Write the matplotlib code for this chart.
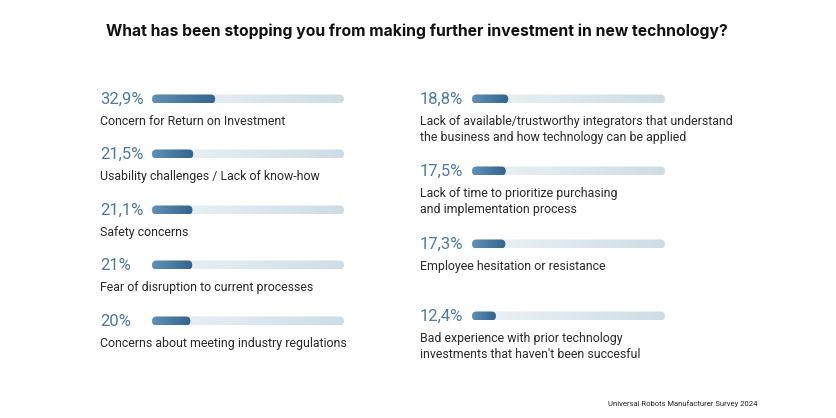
import matplotlib.pyplot as plt
import numpy as np
from matplotlib.patches import FancyBboxPatch
from matplotlib.colors import LinearSegmentedColormap

plt.rcParams['font.family'] = ['Roboto', 'DejaVu Sans']

# data
left_values = [32.9, 21.5, 21.1, 21, 20]
left_pct = ["32,9%", "21,5%", "21,1%", "21%", "20%"]
left_labels = ["Concern for Return on Investment",
               "Usability challenges / Lack of know-how",
               "Safety concerns",
               "Fear of disruption to current processes",
               "Concerns about meeting industry regulations"]

right_values = [18.8, 17.5, 17.3, 12.4]
right_pct = ["18,8%", "17,5%", "17,3%", "12,4%"]
right_labels = ["Lack of available/trustworthy integrators that understand\nthe business and how technology can be applied",
                "Lack of time to prioritize purchasing\nand implementation process",
                "Employee hesitation or resistance",
                "Bad experience with prior technology\ninvestments that haven't been succesful"]

title = "What has been stopping you from making further investment in new technology?"
source = "Universal Robots Manufacturer Survey 2024"

track_cmap = LinearSegmentedColormap.from_list("track", ["#eef3f6", "#cddde6"])
fill_cmap = LinearSegmentedColormap.from_list("fill", ["#6090b5", "#33648f"])

fig = plt.figure(figsize=(8.36, 4.18), dpi=100)
ax = fig.add_axes([0, 0, 1, 1])
ax.set_xlim(0, 836)
ax.set_ylim(418, 0)
ax.axis('off')

grad = np.linspace(0, 1, 256).reshape(1, -1)


def rounded_bar(x0, yc, w, h, cmap):
    r = h / 2
    # thin core box padded by r -> pill shape
    patch = FancyBboxPatch((x0 + r, yc - 0.01), max(w - h, 0.01), 0.02,
                           boxstyle="round,pad=%f,rounding_size=%f" % (r - 0.01, r),
                           linewidth=0, facecolor='none')
    ax.add_patch(patch)
    im = ax.imshow(grad, cmap=cmap, aspect='auto',
                   extent=(x0, x0 + w, yc + r, yc - r), zorder=2)
    im.set_clip_path(patch)


def column(values, pcts, labels, x_text, x_bar, bar_len, ys):
    for v, p, lab, y in zip(values, pcts, labels, ys):
        ax.text(x_text, y, p, fontsize=12, color="#4f7a9f",
                va='center', ha='left')
        rounded_bar(x_bar, y, bar_len, 9, track_cmap)
        rounded_bar(x_bar, y, bar_len * v / 100, 9, fill_cmap)
        ax.text(x_text, y + 16, lab, fontsize=8.9, color="#2a2a2a",
                va='top', ha='left', linespacing=1.3)


column(left_values, left_pct, left_labels, 100, 152, 192,
       [99, 154, 210, 265, 321])
column(right_values, right_pct, right_labels, 420, 472, 193,
       [99, 171, 244, 316])

ax.text(417, 31, title, fontsize=11.3, fontweight='bold', color="#111111",
        ha='center', va='center', family=['Inter', 'DejaVu Sans'])
ax.text(757, 404, source, fontsize=5.5, color="#222222", ha='right', va='center')

fig.savefig("out.png", dpi=100, facecolor='white')
